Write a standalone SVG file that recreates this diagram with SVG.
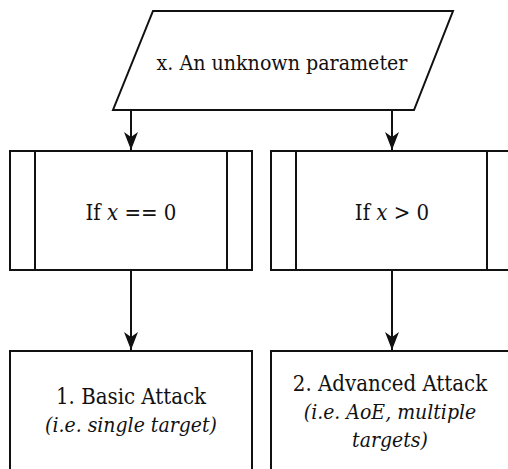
<svg xmlns="http://www.w3.org/2000/svg" width="508" height="469" viewBox="0 0 508 469">
<style>
.s{fill:#fff;stroke:#111;stroke-width:2}
.c{stroke:#111;stroke-width:2;fill:none}
</style>
<defs>
<marker id="ah" viewBox="0 0 18 14" refX="18" refY="7" markerWidth="18" markerHeight="14" markerUnits="userSpaceOnUse" orient="auto">
<path d="M0,0 L18,7 L0,14 L5,7 Z" fill="#111"/>
</marker>
</defs>
<rect width="508" height="469" fill="#fff"/>
<g font-family="DejaVu Serif Condensed, DejaVu Serif, serif" font-size="22" fill="#111" text-anchor="middle">
<g id="input">
<polygon class="s" points="153,11 453,11 414,110 113,110"/>
<text x="282" y="70" font-size="21.2">x. An unknown parameter</text>
</g>
<g id="cond1">
<rect class="s" x="10" y="151" width="242" height="119"/>
<line class="c" x1="35" y1="151" x2="35" y2="270"/>
<line class="c" x1="227" y1="151" x2="227" y2="270"/>
<text x="131" y="220">If <tspan font-style="italic">x</tspan> == 0</text>
</g>
<g id="cond2">
<rect class="s" x="271" y="151" width="250" height="119"/>
<line class="c" x1="296" y1="151" x2="296" y2="270"/>
<line class="c" x1="487" y1="151" x2="487" y2="270"/>
<text x="392" y="220">If <tspan font-style="italic">x</tspan> &gt; 0</text>
</g>
<g id="action1">
<rect class="s" x="10" y="351" width="242" height="130"/>
<text x="131" y="404">1. Basic Attack</text>
<text x="131" y="432" font-style="italic" font-size="21">(i.e. single target)</text>
</g>
<g id="action2">
<rect class="s" x="271" y="351" width="250" height="130"/>
<text x="390" y="391">2. Advanced Attack</text>
<text x="390" y="419" font-style="italic" font-size="21">(i.e. AoE, multiple</text>
<text x="390" y="447" font-style="italic" font-size="21">targets)</text>
</g>
</g>
<g id="connectors">
<line class="c" x1="131" y1="110" x2="131" y2="150" marker-end="url(#ah)"/>
<line class="c" x1="392" y1="110" x2="392" y2="150" marker-end="url(#ah)"/>
<line class="c" x1="131" y1="270" x2="131" y2="350" marker-end="url(#ah)"/>
<line class="c" x1="392" y1="270" x2="392" y2="350" marker-end="url(#ah)"/>
</g>
</svg>
